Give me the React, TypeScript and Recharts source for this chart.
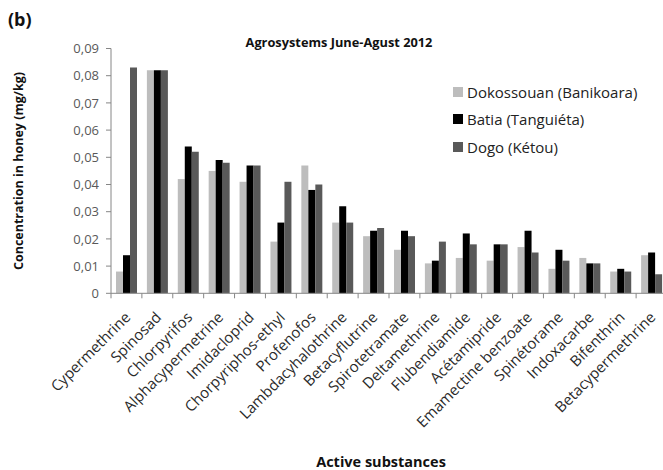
import React from 'react';
import { BarChart, Bar, XAxis, YAxis, Legend } from 'recharts';

const categories = [
  'Cypermethrine', 'Spinosad', 'Chlorpyrifos', 'Alphacypermetrine', 'Imidacloprid',
  'Chorpyriphos-ethyl', 'Profenofos', 'Lambdacyhalothrine', 'Betacyflutrine',
  'Spirotetramate', 'Deltamethrine', 'Flubendiamide', 'Acétamipride',
  'Emamectine benzoate', 'Spinétorame', 'Indoxacarbe', 'Bifenthrin', 'Betacypermethrine',
];

const dokossouan = [0.008, 0.082, 0.042, 0.045, 0.041, 0.019, 0.047, 0.026, 0.021, 0.016, 0.011, 0.013, 0.012, 0.017, 0.009, 0.013, 0.008, 0.014];
const batia = [0.014, 0.082, 0.054, 0.049, 0.047, 0.026, 0.038, 0.032, 0.023, 0.023, 0.012, 0.022, 0.018, 0.023, 0.016, 0.011, 0.009, 0.015];
const dogo = [0.083, 0.082, 0.052, 0.048, 0.047, 0.041, 0.040, 0.026, 0.024, 0.021, 0.019, 0.018, 0.018, 0.015, 0.012, 0.011, 0.008, 0.007];

const seriesNames = ['Dokossouan (Banikoara)', 'Batia (Tanguiéta)', 'Dogo (Kétou)'];
const yTicks = [0, 0.01, 0.02, 0.03, 0.04, 0.05, 0.06, 0.07, 0.08, 0.09];

const data = categories.map((name, i) => ({
  name,
  dokossouan: dokossouan[i],
  batia: batia[i],
  dogo: dogo[i],
}));

const FONT = '"Open Sans", sans-serif';
const CHART_W = 665;
const CHART_H = 462;
const MARGIN = { top: 40.5, right: 6, bottom: 146.7, left: 53 };
const Y_W = 50;
const PLOT_W = CHART_W - MARGIN.left - MARGIN.right - Y_W;
const BAND = PLOT_W / categories.length;
const AXIS_COLOR = '#868686';

function CategoryTick(props: any) {
  const { x, y, payload, index } = props;
  return (
    <g transform={`translate(${x},${y})`}>
      <line x1={-BAND / 2} y1={-5} x2={-BAND / 2} y2={0} stroke={AXIS_COLOR} />
      {index === categories.length - 1 && (
        <line x1={BAND / 2} y1={-5} x2={BAND / 2} y2={0} stroke={AXIS_COLOR} />
      )}
      <text
        x={0}
        y={0}
        transform={`translate(5,20) rotate(-45)`}
        textAnchor="end"
        fontSize={15}
        fontFamily={FONT}
        fill="#2a2a2a"
      >
        {payload.value}
      </text>
    </g>
  );
}

function LegendContent(props: any) {
  const items = [...(props.payload || [])].sort(
    (a: any, b: any) => seriesNames.indexOf(a.value) - seriesNames.indexOf(b.value)
  );
  return (
    <div style={{ fontFamily: FONT }}>
      {items.map((p: any) => (
        <div key={p.value} style={{ display: 'flex', alignItems: 'center', height: 27.5, fontSize: 15, color: '#222' }}>
          <span style={{ display: 'inline-block', width: 10, height: 10, background: p.color, marginRight: 4 }} />
          <span>{p.value}</span>
        </div>
      ))}
    </div>
  );
}

const fmt = (v: number) => (v === 0 ? '0' : v.toFixed(2).replace('.', ','));

export default function App() {
  return (
    <div style={{ position: 'absolute', left: 8, top: 8, width: 655, height: 462, overflow: 'hidden', fontFamily: FONT }}>
      <BarChart
        width={CHART_W}
        height={CHART_H}
        data={data}
        margin={MARGIN}
        barSize={7}
        barGap={0}
      >
        <XAxis
          dataKey="name"
          interval={0}
          tickLine={false}
          tickSize={5}
          tickMargin={0}
          height={30}
          axisLine={{ stroke: AXIS_COLOR }}
          tick={<CategoryTick />}
        />
        <YAxis
          width={Y_W}
          domain={[0, 0.09]}
          ticks={yTicks}
          interval={0}
          tickFormatter={fmt}
          tickSize={5}
          tickMargin={7}
          axisLine={{ stroke: AXIS_COLOR }}
          tickLine={{ stroke: AXIS_COLOR }}
          tick={{ fontSize: 13, fill: '#595959', fontFamily: FONT }}
        />
        <Legend
          layout="vertical"
          align="center"
          verticalAlign="middle"
          content={<LegendContent />}
          wrapperStyle={{ position: 'absolute', left: 445, top: 70, width: 205 }}
        />
        <Bar dataKey="dokossouan" name={seriesNames[0]} fill="#bdbdbd" isAnimationActive={false} />
        <Bar dataKey="batia" name={seriesNames[1]} fill="#000000" isAnimationActive={false} />
        <Bar dataKey="dogo" name={seriesNames[2]} fill="#595959" isAnimationActive={false} />
      </BarChart>
      <div style={{ position: 'absolute', left: 0, top: 2, fontSize: 18, fontWeight: 'bold', lineHeight: 1, color: '#111' }}>(b)</div>
      <div style={{ position: 'absolute', left: 331, top: 34, transform: 'translate(-50%,-50%)', fontSize: 12.8, fontWeight: 'bold', whiteSpace: 'nowrap', color: '#111' }}>
        Agrosystems June-Agust 2012
      </div>
      <div style={{ position: 'absolute', left: 10, top: 163, transform: 'translate(-50%,-50%) rotate(-90deg)', fontSize: 12.5, fontWeight: 'bold', whiteSpace: 'nowrap', color: '#111' }}>
        Concentration in honey (mg/kg)
      </div>
      <div style={{ position: 'absolute', left: 373, top: 453, transform: 'translate(-50%,-50%)', fontSize: 14.5, fontWeight: 'bold', whiteSpace: 'nowrap', color: '#111' }}>
        Active substances
      </div>
    </div>
  );
}
